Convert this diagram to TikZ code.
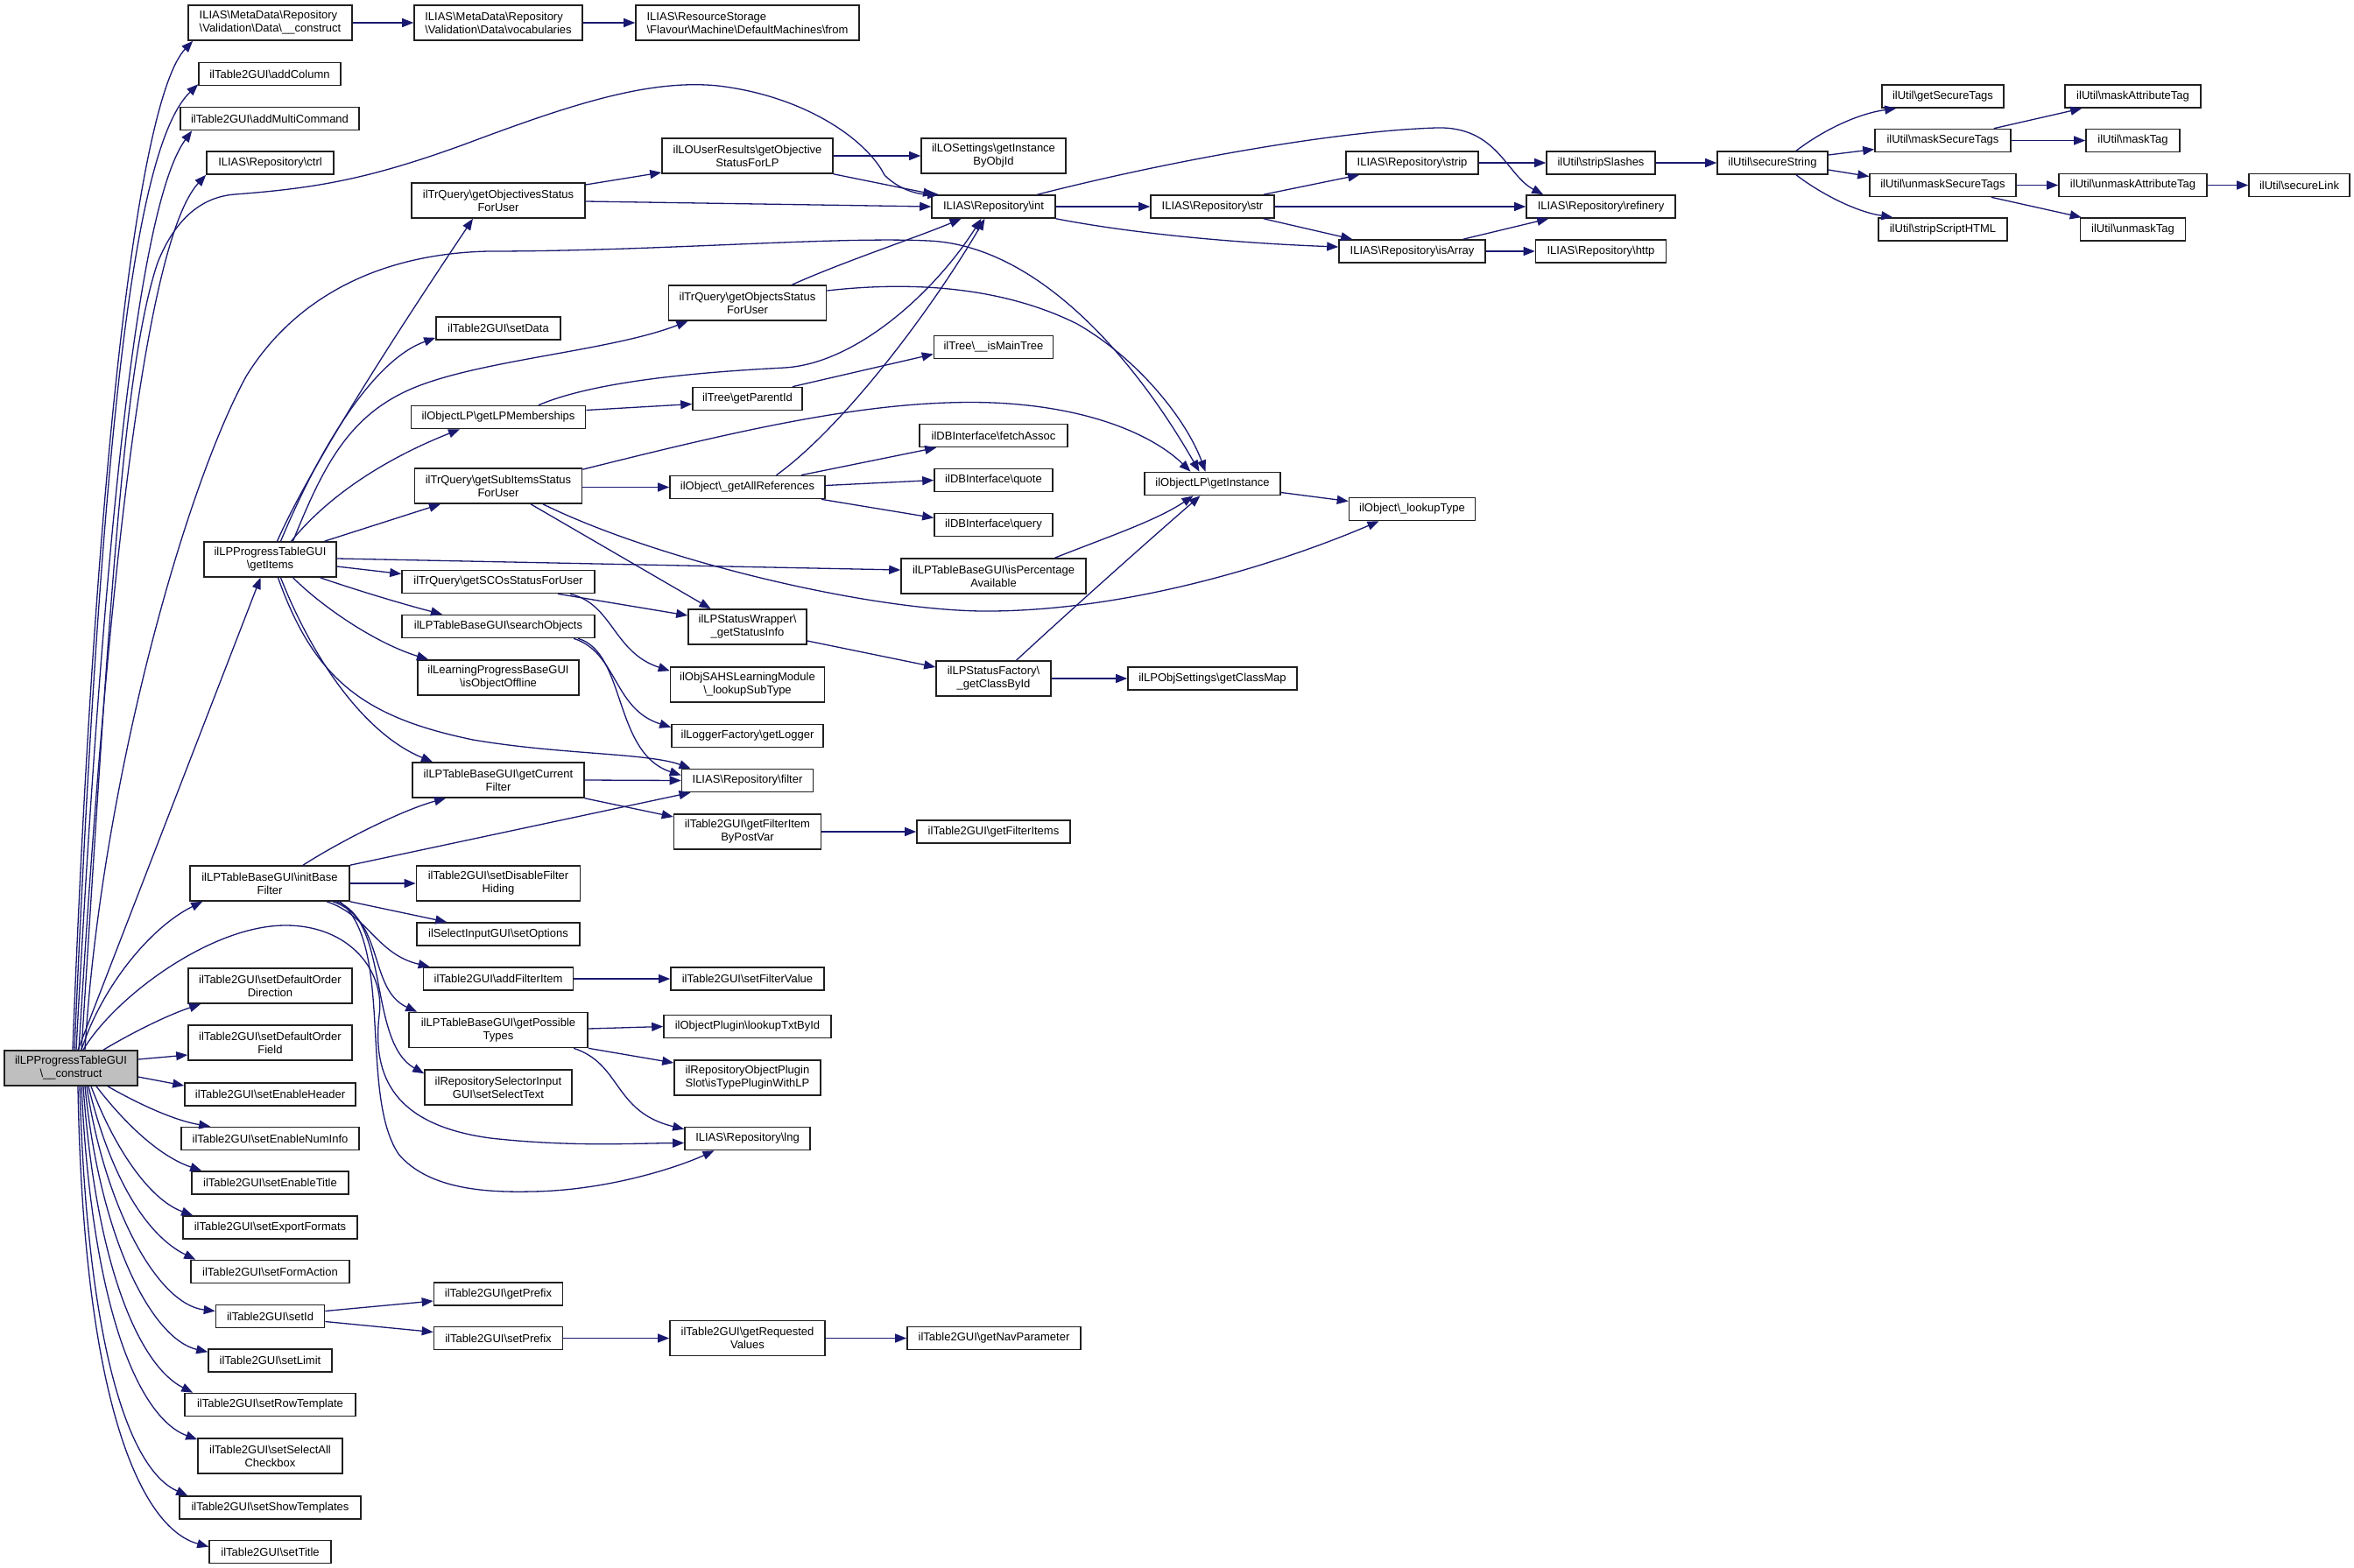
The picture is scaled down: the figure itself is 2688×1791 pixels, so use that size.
\documentclass[tikz,border=0pt]{standalone}
\usepackage{fontspec}
\setmainfont{Liberation Sans}
\usetikzlibrary{arrows.meta}
\definecolor{edgec}{HTML}{191970}
\definecolor{bordc}{HTML}{202020}
\definecolor{mainf}{HTML}{BFBFBF}
\newcommand{\bs}{\textbackslash}
\begin{document}
\begin{tikzpicture}[x=1pt,y=-1pt,
 box/.style={draw=bordc, line width=1.6pt, fill=white, inner sep=0pt, align=center, font=\fontsize{13}{15}\selectfont},
 one/.style={minimum height=26pt},
 two/.style={minimum height=40pt},
 wd/.style={minimum width=#1},
 conn/.style={draw=edgec, line width=1.3pt, -{Triangle[length=13pt,width=10pt]}}]
\fill[white] (0,0) rectangle (2688,1791);
\useasboundingbox (0,0) rectangle (2688,1791);
% column 1
\node[box,two,wd=152pt,fill=mainf] (C) at (81,1220) {ilLPProgressTableGUI\\\bs\_\_construct};
% column 2
\node[box,two,wd=187pt,align=left] (mdc) at (308.5,26) {ILIAS\bs MetaData\bs Repository\\\bs Validation\bs Data\bs\_\_construct};
\node[box,one,wd=162pt] (addColumn) at (308,84.5) {ilTable2GUI\bs addColumn};
\node[box,one,wd=204pt] (amc) at (308,135.5) {ilTable2GUI\bs addMultiCommand};
\node[box,one,wd=145pt] (ctrl) at (308.5,186) {ILIAS\bs Repository\bs ctrl};
\node[box,two,wd=151pt] (G) at (308.5,639) {ilLPProgressTableGUI\\\bs getItems};
\node[box,two,wd=182pt] (IB) at (308,1009) {ilLPTableBaseGUI\bs initBase\\Filter};
\node[box,two,wd=187pt] (sdod) at (308.5,1126) {ilTable2GUI\bs setDefaultOrder\\Direction};
\node[box,two,wd=187pt] (sdof) at (308.5,1191) {ilTable2GUI\bs setDefaultOrder\\Field};
\node[box,one,wd=195pt] (seh) at (308.5,1250) {ilTable2GUI\bs setEnableHeader};
\node[box,one,wd=203pt] (seni) at (308.5,1300.5) {ilTable2GUI\bs setEnableNumInfo};
\node[box,one,wd=179pt] (sETitle) at (308.5,1351) {ilTable2GUI\bs setEnableTitle};
\node[box,one,wd=199pt] (sef) at (308.5,1402) {ilTable2GUI\bs setExportFormats};
\node[box,one,wd=181pt] (sfa) at (308.5,1452.5) {ilTable2GUI\bs setFormAction};
\node[box,one,wd=124pt] (setId) at (308.5,1503.5) {ilTable2GUI\bs setId};
\node[box,one,wd=141pt] (setLimit) at (308.5,1554) {ilTable2GUI\bs setLimit};
\node[box,one,wd=195pt] (srt) at (308.5,1604.5) {ilTable2GUI\bs setRowTemplate};
\node[box,two,wd=165pt] (ssac) at (308.5,1663) {ilTable2GUI\bs setSelectAll\\Checkbox};
\node[box,one,wd=207pt] (sst) at (308.5,1722) {ilTable2GUI\bs setShowTemplates};
\node[box,one,wd=139pt] (setTitle) at (308.5,1772.5) {ilTable2GUI\bs setTitle};
% column 3
\node[box,two,wd=192pt,align=left] (voc) at (569,26) {ILIAS\bs MetaData\bs Repository\\\bs Validation\bs Data\bs vocabularies};
\node[box,two,wd=198pt] (gOSFU) at (569,229) {ilTrQuery\bs getObjectivesStatus\\ForUser};
\node[box,one,wd=142pt] (setData) at (569,375) {ilTable2GUI\bs setData};
\node[box,one,wd=199pt] (gLPM) at (569,476.5) {ilObjectLP\bs getLPMemberships};
\node[box,two,wd=191pt] (gSISFU) at (569,555) {ilTrQuery\bs getSubItemsStatus\\ForUser};
\node[box,one,wd=220pt] (gSCO) at (569,664.5) {ilTrQuery\bs getSCOsStatusForUser};
\node[box,one,wd=220pt] (searchObj) at (569,715.5) {ilLPTableBaseGUI\bs searchObjects};
\node[box,two,wd=184pt] (iOO) at (569,774) {ilLearningProgressBaseGUI\\\bs isObjectOffline};
\node[box,two,wd=196pt] (gCF) at (569,891) {ilLPTableBaseGUI\bs getCurrent\\Filter};
\node[box,two,wd=187pt] (sdfh) at (569,1009) {ilTable2GUI\bs setDisableFilter\\Hiding};
\node[box,one,wd=186pt] (setOptions) at (569,1067) {ilSelectInputGUI\bs setOptions};
\node[box,one,wd=171pt] (addFI) at (569,1118) {ilTable2GUI\bs addFilterItem};
\node[box,two,wd=204pt] (gPT) at (569,1176.5) {ilLPTableBaseGUI\bs getPossible\\Types};
\node[box,two,wd=168pt] (sSelT) at (569,1242) {ilRepositorySelectorInput\\GUI\bs setSelectText};
\node[box,one,wd=147pt] (getPrefix) at (569,1478) {ilTable2GUI\bs getPrefix};
\node[box,one,wd=147pt] (setPrefix) at (569,1528.5) {ilTable2GUI\bs setPrefix};
% column 4
\node[box,two,wd=255pt,align=left] (from) at (853.5,26) {ILIAS\bs ResourceStorage\\\bs Flavour\bs Machine\bs DefaultMachines\bs from};
\node[box,two,wd=195pt] (gOSLP) at (853.5,178) {ilLOUserResults\bs getObjective\\StatusForLP};
\node[box,two,wd=180pt] (gObjSFU) at (853.5,346) {ilTrQuery\bs getObjectsStatus\\ForUser};
\node[box,one,wd=125pt] (gPI) at (853.5,455.5) {ilTree\bs getParentId};
\node[box,one,wd=177pt] (gAR) at (853.5,556.5) {ilObject\bs\_getAllReferences};
\node[box,two,wd=135pt] (gSI) at (853.5,716) {ilLPStatusWrapper\bs\\\_getStatusInfo};
\node[box,two,wd=176pt] (lST) at (853.5,782) {ilObjSAHSLearningModule\\\bs\_lookupSubType};
\node[box,one,wd=173pt] (gLog) at (853.5,840.5) {ilLoggerFactory\bs getLogger};
\node[box,one,wd=150pt] (filter) at (853.5,891.5) {ILIAS\bs Repository\bs filter};
\node[box,two,wd=168pt] (gFIBPV) at (853.5,950) {ilTable2GUI\bs getFilterItem\\ByPostVar};
\node[box,one,wd=175pt] (sFV) at (853.5,1118) {ilTable2GUI\bs setFilterValue};
\node[box,one,wd=191pt] (lTBI) at (853.5,1172.5) {ilObjectPlugin\bs lookupTxtById};
\node[box,two,wd=167pt] (iTPWLP) at (853.5,1231) {ilRepositoryObjectPlugin\\Slot\bs isTypePluginWithLP};
\node[box,one,wd=143pt] (lng) at (853.5,1300.5) {ILIAS\bs Repository\bs lng};
\node[box,two,wd=177pt] (gRV) at (853.5,1528.5) {ilTable2GUI\bs getRequested\\Values};
% column 5
\node[box,two,wd=165pt] (gIBOI) at (1134.5,178) {ilLOSettings\bs getInstance\\ByObjId};
\node[box,one,wd=141pt] (int) at (1134.5,236) {ILIAS\bs Repository\bs int};
\node[box,one,wd=136pt] (iMT) at (1134.5,396.5) {ilTree\bs\_\_isMainTree};
\node[box,one,wd=169pt] (fetchAssoc) at (1134.5,497.5) {ilDBInterface\bs fetchAssoc};
\node[box,one,wd=135pt] (quote) at (1134.5,548.5) {ilDBInterface\bs quote};
\node[box,one,wd=135pt] (query) at (1134.5,599.5) {ilDBInterface\bs query};
\node[box,two,wd=211pt] (iPA) at (1134.5,658) {ilLPTableBaseGUI\bs isPercentage\\Available};
\node[box,two,wd=131pt] (gCBI) at (1134.5,775) {ilLPStatusFactory\bs\\\_getClassById};
\node[box,one,wd=175pt] (gFI) at (1134.5,950) {ilTable2GUI\bs getFilterItems};
\node[box,one,wd=198pt] (gNP) at (1135,1528.5) {ilTable2GUI\bs getNavParameter};
% column 6
\node[box,one,wd=141pt] (str) at (1384.5,236) {ILIAS\bs Repository\bs str};
\node[box,one,wd=155pt] (gI) at (1384.5,552.5) {ilObjectLP\bs getInstance};
\node[box,one,wd=193pt] (gCM) at (1384.5,775) {ilLPObjSettings\bs getClassMap};
% column 7
\node[box,one,wd=151pt] (strip) at (1612.5,186) {ILIAS\bs Repository\bs strip};
\node[box,one,wd=167pt] (isArray) at (1612.5,287) {ILIAS\bs Repository\bs isArray};
\node[box,one,wd=144pt] (lT) at (1612.5,581.5) {ilObject\bs\_lookupType};
% column 8
\node[box,one,wd=124pt] (stripSlashes) at (1828,186) {ilUtil\bs stripSlashes};
\node[box,one,wd=170pt] (refinery) at (1828,236) {ILIAS\bs Repository\bs refinery};
\node[box,one,wd=149pt] (http) at (1828,287) {ILIAS\bs Repository\bs http};
% column 9-12
\node[box,one,wd=126pt] (secureString) at (2024,186) {ilUtil\bs secureString};
\node[box,one,wd=139pt] (getSecureTags) at (2218.5,110) {ilUtil\bs getSecureTags};
\node[box,one,wd=155pt] (mST) at (2218.5,160.5) {ilUtil\bs maskSecureTags};
\node[box,one,wd=167pt] (umST) at (2218.5,211.5) {ilUtil\bs unmaskSecureTags};
\node[box,one,wd=147pt] (sSH) at (2218.5,262) {ilUtil\bs stripScriptHTML};
\node[box,one,wd=155pt] (mAT) at (2435.5,110) {ilUtil\bs maskAttributeTag};
\node[box,one,wd=107pt] (maskTag) at (2435.5,160.5) {ilUtil\bs maskTag};
\node[box,one,wd=169pt] (umAT) at (2435.5,211.5) {ilUtil\bs unmaskAttributeTag};
\node[box,one,wd=120pt] (umT) at (2435.5,262) {ilUtil\bs unmaskTag};
\node[box,one,wd=115pt] (secureLink) at (2625.5,211.5) {ilUtil\bs secureLink};

% ---------- edges from construct
\draw[conn] ([xshift=2pt]C.north) .. controls (110,500) and (160,110) .. ([xshift=6pt]mdc.south west);
\draw[conn] ([xshift=4pt]C.north) .. controls (115,520) and (150,170) .. ([yshift=2pt]addColumn.south west);
\draw[conn] ([xshift=6pt]C.north) .. controls (120,580) and (160,230) .. ([xshift=14pt]amc.south west);
\draw[conn] ([xshift=9pt]C.north) .. controls (125,620) and (170,270) .. (ctrl.south west);
\draw[conn] ([xshift=12pt]C.north) .. controls (125,700) and (140,420) .. (180,300) .. controls (200,250) and (230,225) .. (268,222) .. controls (360,215) and (420,205) .. (530,165) .. controls (650,120) and (740,90) .. (820,98) .. controls (920,110) and (990,160) .. (1010,200) .. controls (1025,215) and (1045,222) .. ([xshift=9pt]int.north west);
\draw[conn] ([xshift=16pt]C.north) .. controls (115,900) and (210,560) .. (281,430) .. controls (330,350) and (420,290) .. (558,287) .. controls (750,287) and (950,270) .. (1060,275) .. controls (1180,280) and (1290,400) .. ([xshift=-15pt]gI.north);
\draw[conn] ([xshift=8pt]C.north) -- ([xshift=-11pt]G.south);
\draw[conn] ([xshift=12pt]C.north) .. controls (115,1130) and (170,1060) .. ([xshift=15pt]IB.south west);
\draw[conn] ([xshift=14pt]C.north) .. controls (130,1140) and (240,1057) .. (326,1057) .. controls (400,1057) and (440,1110) .. (433,1160) .. controls (425,1230) and (450,1285) .. (560,1300) .. controls (650,1310) and (720,1306) .. ([yshift=-5pt]lng.west);
\draw[conn] ([xshift=37pt]C.north) .. controls (150,1180) and (190,1160) .. ([xshift=15pt]sdod.south west);
\draw[conn] ([yshift=10pt]C.east) -- ([yshift=-14pt]sdof.west);
\draw[conn] ([yshift=-10pt]C.east) -- ([yshift=10pt]seh.west);
\draw[conn] ([xshift=42pt]C.south) .. controls (160,1262) and (200,1280) .. ([xshift=34pt]seni.north west);
\draw[conn] ([xshift=29pt]C.south) .. controls (140,1280) and (180,1320) .. ([xshift=12pt]sETitle.north west);
\draw[conn] ([xshift=23pt]C.south) .. controls (130,1310) and (170,1370) .. ([xshift=12pt]sef.north west);
\draw[conn] ([xshift=20pt]C.south) .. controls (125,1340) and (165,1410) .. ([xshift=6pt]sfa.north west);
\draw[conn] ([xshift=18pt]C.south) .. controls (120,1380) and (180,1490) .. ([yshift=6pt]setId.west);
\draw[conn] ([xshift=16pt]C.south) .. controls (115,1420) and (175,1530) .. ([yshift=-4pt]setLimit.north west);
\draw[conn] ([xshift=14pt]C.south) .. controls (110,1450) and (160,1560) .. ([xshift=10pt]srt.north west);
\draw[conn] ([xshift=12pt]C.south) .. controls (105,1500) and (160,1620) .. ([yshift=-2pt]ssac.north west);
\draw[conn] ([xshift=10pt]C.south) .. controls (100,1550) and (150,1680) .. ([xshift=10pt]sst.north west);
\draw[conn] ([xshift=8pt]C.south) .. controls (95,1600) and (160,1745) .. ([yshift=-8pt]setTitle.north west);

% ---------- edges from getItems
\draw[conn] ([xshift=8pt]G.north) .. controls (360,520) and (480,340) .. ([xshift=-29pt]gOSFU.south);
\draw[conn] ([xshift=12pt]G.north) .. controls (370,500) and (430,410) .. ([yshift=3pt]setData.south west);
\draw[conn] ([xshift=26pt]G.north) .. controls (370,530) and (400,470) .. (480,440) .. controls (560,410) and (700,400) .. ([xshift=-68pt]gObjSFU.south);
\draw[conn] ([xshift=24pt]G.north) .. controls (380,560) and (450,520) .. ([xshift=-44pt]gLPM.south);
\draw[conn] ([xshift=62pt]G.north) -- ([xshift=-66pt]gSISFU.south);
\draw[conn] ([yshift=1pt]G.east) -- ([yshift=7pt]iPA.west);
\draw[conn] ([yshift=-8pt]G.east) -- ([yshift=9pt]gSCO.west);
\draw[conn] ([xshift=57pt]G.south) .. controls (410,675) and (460,690) .. ([xshift=-64pt]searchObj.north);
\draw[conn] ([xshift=26pt]G.south) .. controls (370,695) and (430,735) .. ([xshift=-80pt]iOO.north);
\draw[conn] ([xshift=12pt]G.south) .. controls (360,760) and (420,840) .. ([xshift=-75pt]gCF.north);
\draw[conn] ([xshift=9pt]G.south) .. controls (360,780) and (420,820) .. (540,845) .. controls (640,862) and (740,860) .. ([xshift=-65pt]filter.north);

% ---------- middle edges
\draw[conn] (mdc.east) -- (voc.west);
\draw[conn] (voc.east) -- (from.west);
\draw[conn] ([yshift=18pt]gOSFU.east) -- ([yshift=-19pt]gOSLP.west);
\draw[conn] ([yshift=-1pt]gOSFU.east) -- (int.west);
\draw[conn] (gOSLP.east) -- (gIBOI.west);
\draw[conn] (gOSLP.south east) -- ([xshift=4pt]int.north west);
\draw[conn] ([xshift=51pt]gObjSFU.north) .. controls (960,300) and (1050,270) .. ([xshift=-37pt]int.south);
\draw[conn] ([yshift=14pt]gObjSFU.east) .. controls (1050,320) and (1150,330) .. (1230,370) .. controls (1300,410) and (1355,480) .. ([xshift=-8pt]gI.north);
\draw[conn] ([yshift=8pt]gLPM.east) -- ([yshift=-6pt]gPI.west);
\draw[conn] ([xshift=46pt]gLPM.north) .. controls (680,435) and (800,425) .. (896,420) .. controls (980,415) and (1070,330) .. ([xshift=-14pt]int.south);
\draw[conn] ([xshift=-12pt]gPI.north east) -- ([yshift=-8pt]iMT.west);
\draw[conn] ([yshift=-1.5pt]gSISFU.east) -- (gAR.west);
\draw[conn] ([yshift=-2pt]gSISFU.north east) .. controls (850,490) and (1000,455) .. (1134,460) .. controls (1250,465) and (1320,500) .. ([xshift=-25pt]gI.north);
\draw[conn] ([xshift=37pt]gSISFU.south) -- ([xshift=-42pt]gSI.north);
\draw[conn] ([xshift=51pt]gSISFU.south) .. controls (750,640) and (1000,700) .. (1134,698) .. controls (1300,696) and (1470,640) .. ([xshift=-38pt]lT.south);
\draw[conn] ([xshift=33pt]gAR.north) .. controls (960,490) and (1060,360) .. ([xshift=-10pt]int.south);
\draw[conn] ([xshift=-28pt]gAR.north east) -- ([xshift=20pt]fetchAssoc.south west);
\draw[conn] ([yshift=2pt]gAR.east) -- (quote.west);
\draw[conn] ([xshift=-5pt]gAR.south east) -- ([yshift=8pt]query.west);
\draw[conn] ([xshift=68pt]gSCO.south) -- ([yshift=13pt]gSI.west);
\draw[conn] ([xshift=82pt]gSCO.south) .. controls (700,690) and (700,745) .. ([yshift=-5pt]lST.north west);
\draw[conn] ([xshift=86pt]searchObj.south) .. controls (705,745) and (700,810) .. ([yshift=-4pt]gLog.north west);
\draw[conn] ([xshift=91pt]searchObj.south) .. controls (715,745) and (700,860) .. ([yshift=6pt]filter.west);
\draw[conn] (gCF.east) -- (filter.west);
\draw[conn] (gCF.south east) -- ([yshift=17pt]gFIBPV.west);
\draw[conn] ([xshift=38pt]IB.north) .. controls (390,960) and (460,925) .. ([xshift=-60pt]gCF.south);
\draw[conn] (IB.north east) -- ([xshift=-65pt]filter.south);
\draw[conn] (IB.east) -- (sdfh.west);
\draw[conn] (IB.south east) -- ([xshift=35pt]setOptions.north west);
\draw[conn] ([xshift=65pt]IB.south) .. controls (420,1045) and (430,1090) .. ([xshift=8pt]addFI.north west);
\draw[conn] ([xshift=72pt]IB.south) .. controls (440,1050) and (420,1130) .. ([xshift=10pt]gPT.north west);
\draw[conn] ([xshift=76pt]IB.south) .. controls (445,1050) and (420,1190) .. ([yshift=-5pt]sSelT.north west);
\draw[conn] ([xshift=80pt]IB.south) .. controls (450,1080) and (410,1250) .. (455,1318) .. controls (490,1360) and (560,1362) .. (607,1361) .. controls (690,1360) and (770,1335) .. ([xshift=-38pt]lng.south);
\draw[conn] (addFI.east) -- (sFV.west);
\draw[conn] ([yshift=1.5pt]gPT.east) -- (lTBI.west);
\draw[conn] (gPT.south east) -- ([yshift=17pt]iTPWLP.west);
\draw[conn] ([xshift=86pt]gPT.south) .. controls (710,1215) and (700,1270) .. ([yshift=-3pt]lng.north west);
\draw[conn] (gFIBPV.east) -- (gFI.west);
\draw[conn] ([yshift=6pt]setId.east) -- ([yshift=-8pt]getPrefix.west);
\draw[conn] ([yshift=-6pt]setId.east) -- ([yshift=7pt]setPrefix.west);
\draw[conn] (setPrefix.east) -- (gRV.west);
\draw[conn] (gRV.east) -- (gNP.west);
\draw[conn] ([yshift=-16pt]gSI.east) -- ([yshift=13pt]gCBI.west);
\draw[conn] ([xshift=26pt]gCBI.north) .. controls (1230,690) and (1320,610) .. ([xshift=-14pt]gI.south);
\draw[conn] (gCBI.east) -- (gCM.west);
\draw[conn] ([xshift=70pt]iPA.north) .. controls (1260,615) and (1320,595) .. ([xshift=-22pt]gI.south);
\draw[conn] ([yshift=-10pt]gI.east) -- ([yshift=9pt]lT.west);

% ---------- right part
\draw[conn] (int.east) -- (str.west);
\draw[conn] ([xshift=50pt]int.north) .. controls (1330,185) and (1520,150) .. (1640,146) .. controls (1710,144) and (1720,200) .. ([xshift=20pt]refinery.north west);
\draw[conn] (int.south east) .. controls (1300,268) and (1420,278) .. ([yshift=5pt]isArray.west);
\draw[conn] ([xshift=-13pt]str.north east) -- ([xshift=16pt]strip.south west);
\draw[conn] (str.east) -- (refinery.west);
\draw[conn] ([xshift=-13pt]str.south east) -- ([xshift=16pt]isArray.north west);
\draw[conn] (strip.east) -- (stripSlashes.west);
\draw[conn] (stripSlashes.east) -- (secureString.west);
\draw[conn] ([xshift=-26pt]isArray.north east) -- ([xshift=26pt]refinery.south west);
\draw[conn] (isArray.east) -- (http.west);
\draw[conn] ([xshift=27pt]secureString.north) .. controls (2080,150) and (2120,130) .. ([xshift=17pt]getSecureTags.south west);
\draw[conn] ([yshift=9pt]secureString.east) -- ([yshift=-10pt]mST.west);
\draw[conn] ([yshift=-8pt]secureString.east) -- ([yshift=10pt]umST.west);
\draw[conn] ([xshift=27pt]secureString.south) .. controls (2080,222) and (2120,242) .. ([xshift=17pt]sSH.north west);
\draw[conn] ([xshift=-20pt]mST.north east) -- ([xshift=20pt]mAT.south west);
\draw[conn] (mST.east) -- (maskTag.west);
\draw[conn] (umST.east) -- (umAT.west);
\draw[conn] ([xshift=-29pt]umST.south east) -- ([xshift=2pt]umT.north west);
\draw[conn] (umAT.east) -- (secureLink.west);
\end{tikzpicture}
\end{document}
